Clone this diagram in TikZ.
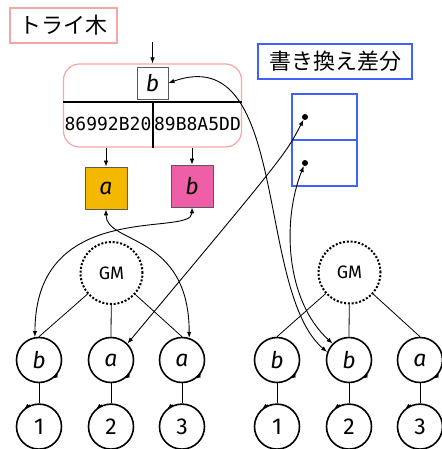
\documentclass[tikz,border=0pt]{standalone}
\usepackage{fontspec}
\setmainfont{Fira Sans}
\newfontfamily\jpfont{Noto Sans CJK JP}
\newfontfamily\hexfont{DejaVu Sans Mono}
\usetikzlibrary{positioning,calc,arrows.meta}
\definecolor{keyorange}{HTML}{F5B800}
\definecolor{keypink}{HTML}{EE5FA7}
\definecolor{trieline}{HTML}{F6A6A6}
\definecolor{diffblue}{HTML}{3F62FF}

\begin{document}
\begin{tikzpicture}[
    x=1pt, y=1pt,
    >={Latex[length=6pt,width=4.5pt]},
    title box/.style={draw, line width=1.2pt, minimum height=35pt, inner sep=0pt, font=\jpfont\fontsize{22}{24}\selectfont},
    key box/.style={draw=black!65, line width=0.8pt, inner sep=0pt, font=\itshape\fontsize{23}{25}\selectfont},
    hash/.style={font=\hexfont\fontsize{18}{20}\selectfont, inner sep=0pt},
    cell/.style={draw=diffblue, line width=1.2pt, outer sep=0pt, minimum width=65pt, minimum height=46pt},
    dot/.style={circle, fill, inner sep=0pt, minimum size=6pt},
    gm/.style={circle, draw, line width=2pt, dash pattern=on 2pt off 1.8pt, minimum size=62pt, inner sep=0pt, font=\fontsize{18}{20}\selectfont},
    tnode/.style={circle, draw, line width=1.6pt, minimum size=45pt, inner sep=0pt, font=\fontsize{23}{25}\selectfont},
    edge/.style={line width=0.8pt},
    link/.style={<->, line width=0.9pt},
    tip/.style={-{Latex[length=4.5pt,width=4pt]}, line width=1.6pt}
]
\useasboundingbox (0,0) rectangle (441,-449);

% labels
\node[title box, draw=trieline, minimum width=107pt] (ttl) at (63.5,-25.5) {トライ木};
\node[title box, draw=diffblue, minimum width=154pt] (dttl) at (335,-61.5) {書き換え差分};

% trie
\node[draw=trieline, line width=1.2pt, rounded corners=16pt, minimum width=178pt, minimum height=83pt] (trie) at (152.5,-105.5) {};
\coordinate (split) at (152.5,-102);
\draw[line width=2pt] (split -| trie.west) -- (split -| trie.east);
\draw[line width=2pt] (split) -- (trie.south);
\node[key box, minimum width=31pt, minimum height=32pt] (tb) at (152.5,-83) {b};
\node[hash] (h1) at (108,-124) {86992B20};
\node[hash] (h2) at (197.5,-124) {89B8A5DD};
\coordinate (entry) at (152.5,-42);
\draw[->, edge] (entry) -- (trie.north);

\node[key box, fill=keyorange, minimum size=42pt] (ka) at (106,-188) {a};
\node[key box, fill=keypink, minimum size=42pt] (kb) at (192,-186) {b};
\draw[->, edge] (ka |- trie.south) -- (ka.north);
\draw[->, edge] (kb |- trie.south) -- (kb.north);

% diff
\node[cell] (c1) at (324.5,-117) {};
\node[cell, below=0pt of c1] (c2) {};
\node[dot] (d1) at ([xshift=-19.5pt]c1.center) {};
\node[dot] (d2) at ([xshift=-19.5pt]c2.center) {};

% left tree
\node[gm] (gL) at (111.5,-273) {GM};
\foreach \i/\x/\k/\v in {1/39/b/1, 2/111/a/2, 3/182/a/3} {
  \node[tnode] (kL\i) at (\x,-360) {\itshape \k};
  \node[tnode, below=20pt of kL\i] (vL\i) {\v};
  \draw[edge] (gL) -- (kL\i.north);
  \draw[edge] (kL\i) -- (vL\i);
  \draw[tip] (kL\i.-38) arc[start angle=-38, end angle=-53, radius=22.5pt];
  \draw[tip] (vL\i.113) arc[start angle=113, end angle=128, radius=22.5pt];
}

% right tree
\node[gm] (gR) at (349.5,-272.5) {GM};
\foreach \i/\x/\k/\v in {1/277/b/1, 2/349/b/2, 3/420/a/3} {
  \node[tnode] (kR\i) at (\x,-360) {\itshape \k};
  \node[tnode, below=20pt of kR\i] (vR\i) {\v};
  \draw[edge] (gR) -- (kR\i.north);
  \draw[edge] (kR\i) -- (vR\i);
  \draw[tip] (kR\i.-38) arc[start angle=-38, end angle=-53, radius=22.5pt];
  \draw[tip] (vR\i.113) arc[start angle=113, end angle=128, radius=22.5pt];
}

% links
\draw[link] (tb.east) .. controls (290,-40) and (255,-290) .. (kR2.160);
\draw[link] (d2) .. controls (282,-220) and (285,-300) .. (kR2.135);
\draw[link] (d1) .. controls (285,-155) .. (kL2.45);
\draw[link] (ka.south) .. controls +(0,-35) and +(0,105) .. (kL3.72);
\draw[link] (kb.south) .. controls +(0,-30) and +(0,140) .. (kL1.100);
\end{tikzpicture}
\end{document}
